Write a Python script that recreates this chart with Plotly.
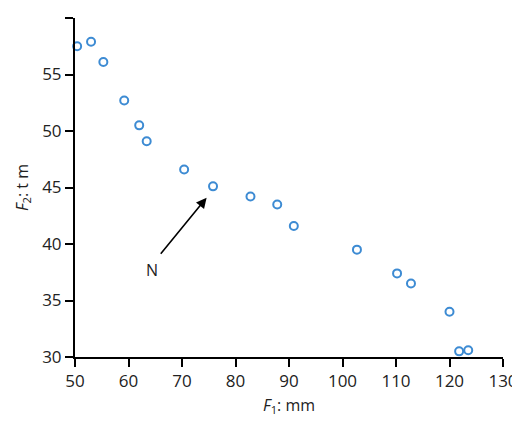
import plotly.graph_objects as go

# Pareto front points
f1_mm = [50.4, 53.0, 55.3, 59.2, 62.0, 63.4, 70.4, 75.8, 82.8, 87.8, 90.9,
         102.7, 110.2, 112.8, 120.0, 121.8, 123.5]
f2_tm = [57.5, 57.9, 56.1, 52.7, 50.5, 49.1, 46.6, 45.1, 44.2, 43.5, 41.6,
         39.5, 37.4, 36.5, 34.0, 30.5, 30.6]

x_ticks = [50, 60, 70, 80, 90, 100, 110, 120, 130]
y_ticks = [30, 35, 40, 45, 50, 55, 60]

fig = go.Figure()
fig.add_trace(go.Scatter(
    x=f1_mm, y=f2_tm, mode='markers',
    marker=dict(symbol='circle-open', size=8, color='#3d8bd3',
                line=dict(width=2, color='#3d8bd3')),
    showlegend=False, cliponaxis=False
))

# arrow pointing at solution N
fig.add_annotation(x=74.6, y=44.1, ax=65.8, ay=39.0, xref='x', yref='y',
                   axref='x', ayref='y', text='', showarrow=True,
                   arrowhead=2, arrowsize=1.3, arrowwidth=1.6, arrowcolor='black')
fig.add_annotation(x=64.4, y=37.7, text='N', showarrow=False,
                   font=dict(size=16, color='#222'))

axis_style = dict(showgrid=False, zeroline=False, showline=True, linecolor='black',
                  linewidth=2, ticks='outside', ticklen=8, tickwidth=2,
                  tickcolor='black', tickfont=dict(size=17, color='#222'))

fig.update_xaxes(range=[50, 130], tickvals=x_ticks,
                 title=dict(text='<i>F</i><sub>1</sub>: mm', font=dict(size=16, color='#222'),
                            standoff=8), **axis_style)
fig.update_yaxes(range=[30, 60], tickvals=y_ticks,
                 title=dict(text='<i>F</i><sub>2</sub>: t m', font=dict(size=16, color='#222'),
                            standoff=10), **axis_style)

fig.update_layout(
    width=520, height=423,
    margin=dict(l=67, r=17, t=10, b=74),
    plot_bgcolor='white', paper_bgcolor='white',
    font=dict(family='Open Sans, sans-serif')
)

fig.write_html('out.html')
